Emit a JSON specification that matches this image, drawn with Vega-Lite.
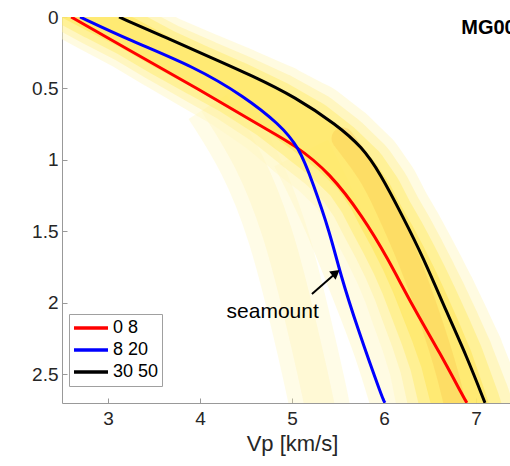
{
  "$schema": "https://vega.github.io/schema/vega-lite/v6.json",
  "autosize": "none",
  "padding": {"left": 62, "top": 17, "right": 0, "bottom": 63},
  "width": 448,
  "height": 386,
  "background": "white",
  "config": {
    "view": {"stroke": null},
    "font": "Liberation Sans",
    "axis": {
      "domainColor": "#999999",
      "tickColor": "#999999",
      "labelColor": "#262626",
      "titleColor": "#262626",
      "labelFont": "Liberation Sans",
      "titleFont": "Liberation Sans",
      "grid": false
    }
  },
  "resolve": {"scale": {"size": "independent"}},
  "datasets": {
    "curves": [
      {"range": "0 8", "Vp": 2.6, "depth": 0},
      {"range": "0 8", "Vp": 3.228, "depth": 0.231},
      {"range": "0 8", "Vp": 3.946, "depth": 0.49},
      {"range": "0 8", "Vp": 4.674, "depth": 0.769},
      {"range": "0 8", "Vp": 5.033, "depth": 0.895},
      {"range": "0 8", "Vp": 5.413, "depth": 1.091},
      {"range": "0 8", "Vp": 5.772, "depth": 1.399},
      {"range": "0 8", "Vp": 6.033, "depth": 1.678},
      {"range": "0 8", "Vp": 6.315, "depth": 2.028},
      {"range": "0 8", "Vp": 6.609, "depth": 2.35},
      {"range": "0 8", "Vp": 6.88, "depth": 2.678},
      {"range": "0 8", "Vp": 6.902, "depth": 2.699},
      {"range": "8 20", "Vp": 2.696, "depth": 0},
      {"range": "8 20", "Vp": 3.228, "depth": 0.161},
      {"range": "8 20", "Vp": 3.946, "depth": 0.35},
      {"range": "8 20", "Vp": 4.489, "depth": 0.559},
      {"range": "8 20", "Vp": 4.859, "depth": 0.748},
      {"range": "8 20", "Vp": 5.076, "depth": 0.909},
      {"range": "8 20", "Vp": 5.228, "depth": 1.161},
      {"range": "8 20", "Vp": 5.413, "depth": 1.51},
      {"range": "8 20", "Vp": 5.522, "depth": 1.79},
      {"range": "8 20", "Vp": 5.707, "depth": 2.168},
      {"range": "8 20", "Vp": 5.989, "depth": 2.678},
      {"range": "8 20", "Vp": 6.011, "depth": 2.699},
      {"range": "30 50", "Vp": 3.12, "depth": 0},
      {"range": "30 50", "Vp": 3.641, "depth": 0.147},
      {"range": "30 50", "Vp": 4.109, "depth": 0.28},
      {"range": "30 50", "Vp": 4.576, "depth": 0.413},
      {"range": "30 50", "Vp": 5.033, "depth": 0.559},
      {"range": "30 50", "Vp": 5.489, "depth": 0.755},
      {"range": "30 50", "Vp": 5.761, "depth": 0.909},
      {"range": "30 50", "Vp": 5.957, "depth": 1.091},
      {"range": "30 50", "Vp": 6.207, "depth": 1.399},
      {"range": "30 50", "Vp": 6.424, "depth": 1.678},
      {"range": "30 50", "Vp": 6.685, "depth": 2.07},
      {"range": "30 50", "Vp": 6.902, "depth": 2.378},
      {"range": "30 50", "Vp": 7.098, "depth": 2.699}
    ],
    "mainband": [
      {"Vp": 2.25, "depth": -0.2, "spread": 0.65},
      {"Vp": 2.86, "depth": 0, "spread": 0.68},
      {"Vp": 3.24, "depth": 0.12, "spread": 0.7},
      {"Vp": 3.6, "depth": 0.25, "spread": 0.72},
      {"Vp": 4.0, "depth": 0.38, "spread": 0.77},
      {"Vp": 4.38, "depth": 0.5, "spread": 0.82},
      {"Vp": 4.8, "depth": 0.65, "spread": 0.9},
      {"Vp": 5.15, "depth": 0.8, "spread": 0.98},
      {"Vp": 5.45, "depth": 0.95, "spread": 0.98},
      {"Vp": 5.69, "depth": 1.1, "spread": 0.98},
      {"Vp": 5.85, "depth": 1.25, "spread": 0.98},
      {"Vp": 5.97, "depth": 1.4, "spread": 0.98},
      {"Vp": 6.1, "depth": 1.55, "spread": 0.99},
      {"Vp": 6.22, "depth": 1.7, "spread": 1.0},
      {"Vp": 6.33, "depth": 1.85, "spread": 1.02},
      {"Vp": 6.43, "depth": 2.0, "spread": 1.05},
      {"Vp": 6.56, "depth": 2.2, "spread": 1.08},
      {"Vp": 6.68, "depth": 2.4, "spread": 1.12},
      {"Vp": 6.82, "depth": 2.7, "spread": 1.2},
      {"Vp": 6.92, "depth": 2.9, "spread": 1.2}
    ],
    "coreband": [
      {"Vp": 5.55, "depth": 0.85},
      {"Vp": 5.85, "depth": 1.1},
      {"Vp": 6.0, "depth": 1.3},
      {"Vp": 6.28, "depth": 1.7},
      {"Vp": 6.5, "depth": 2.1},
      {"Vp": 6.7, "depth": 2.5},
      {"Vp": 6.82, "depth": 2.85}
    ],
    "paleband": [
      {"Vp": 5.1, "depth": 0.95},
      {"Vp": 5.45, "depth": 1.4},
      {"Vp": 5.75, "depth": 1.9},
      {"Vp": 6.0, "depth": 2.3},
      {"Vp": 6.25, "depth": 2.85}
    ],
    "leftband": [
      {"Vp": 4.15, "depth": 0.6},
      {"Vp": 4.55, "depth": 1.0},
      {"Vp": 4.85, "depth": 1.5},
      {"Vp": 5.05, "depth": 2.0},
      {"Vp": 5.3, "depth": 2.7},
      {"Vp": 5.35, "depth": 2.9}
    ],
    "notes": [
      {"label": "seamount", "Vp": 4.79, "depth": 2.06}
    ],
    "tag": [
      {"label": "MG00", "Vp": 6.84, "depth": 0.08}
    ],
    "arrow": [
      {"Vp": 5.217, "depth": 1.937, "Vp2": 5.478, "depth2": 1.79}
    ]
  },
  "encoding": {
    "x": {
      "field": "Vp", "type": "quantitative",
      "scale": {"domain": [2.5, 7.37], "nice": false, "zero": false},
      "axis": {
        "title": "Vp [km/s]", "values": [3, 4, 5, 6, 7],
        "labelFontSize": 19, "titleFontSize": 22, "titleFontWeight": "normal",
        "tickSize": -5, "labelPadding": 11, "titleX": 230, "titlePadding": 5
      }
    },
    "y": {
      "field": "depth", "type": "quantitative",
      "scale": {"domain": [0, 2.7], "nice": false, "reverse": true, "zero": false},
      "axis": {
        "title": null, "values": [0, 0.5, 1, 1.5, 2, 2.5], "format": "~g",
        "labelFontSize": 19, "tickSize": -5, "labelPadding": 9
      }
    }
  },
  "layer": [
    {
      "data": {"name": "leftband"},
      "mark": {"type": "line", "clip": true, "color": "#FFF4B0", "strokeWidth": 60, "opacity": 0.3, "strokeJoin": "round", "interpolate": "basis"},
      "encoding": {"order": {"field": "depth"}}
    },
    {
      "data": {"name": "leftband"},
      "mark": {"type": "line", "clip": true, "color": "#FFF0A0", "strokeWidth": 30, "opacity": 0.25, "strokeJoin": "round", "interpolate": "basis"},
      "encoding": {"order": {"field": "depth"}}
    },
    {
      "data": {"name": "paleband"},
      "mark": {"type": "line", "clip": true, "color": "#FFF6C0", "strokeWidth": 60, "opacity": 0.45, "strokeJoin": "round", "interpolate": "basis"},
      "encoding": {"order": {"field": "depth"}}
    },
    {
      "data": {"name": "mainband"},
      "mark": {"type": "trail", "clip": true, "color": "#FFF7C4", "opacity": 0.5},
      "encoding": {"order": {"field": "depth"}, "size": {"field": "spread", "type": "quantitative", "scale": {"domain": [0, 1.2], "range": [0, 125]}, "legend": null}}
    },
    {
      "data": {"name": "mainband"},
      "mark": {"type": "trail", "clip": true, "color": "#FFF09A", "opacity": 0.45},
      "encoding": {"order": {"field": "depth"}, "size": {"field": "spread", "type": "quantitative", "scale": {"domain": [0, 1.2], "range": [0, 102]}, "legend": null}}
    },
    {
      "data": {"name": "mainband"},
      "mark": {"type": "trail", "clip": true, "color": "#FFEA66", "opacity": 0.45},
      "encoding": {"order": {"field": "depth"}, "size": {"field": "spread", "type": "quantitative", "scale": {"domain": [0, 1.2], "range": [0, 80]}, "legend": null}}
    },
    {
      "data": {"name": "mainband"},
      "mark": {"type": "trail", "clip": true, "color": "#FFE246", "opacity": 0.45},
      "encoding": {"order": {"field": "depth"}, "size": {"field": "spread", "type": "quantitative", "scale": {"domain": [0, 1.2], "range": [0, 56]}, "legend": null}}
    },
    {
      "data": {"name": "coreband"},
      "mark": {"type": "line", "clip": true, "color": "#F6B73C", "strokeWidth": 22, "opacity": 0.25, "strokeJoin": "round", "strokeCap": "round", "interpolate": "basis"},
      "encoding": {"order": {"field": "depth"}}
    },
    {
      "data": {"name": "curves"},
      "mark": {"type": "line", "clip": true, "strokeWidth": 3, "interpolate": "basis"},
      "encoding": {
        "order": {"field": "depth"},
        "color": {
          "field": "range", "type": "nominal",
          "scale": {"domain": ["0 8", "8 20", "30 50"], "range": ["#ff0000", "#0000ff", "#000000"]},
          "legend": {
            "title": null, "orient": "none", "legendX": 7, "legendY": 297,
            "symbolType": "stroke", "symbolSize": 1156, "symbolStrokeWidth": 3.5,
            "clipHeight": 22, "rowPadding": 0, "labelFontSize": 18, "labelColor": "#000000",
            "labelFont": "Liberation Sans", "labelOffset": 3,
            "strokeColor": "#a0a0a0", "fillColor": "white", "padding": 3
          }
        }
      }
    },
    {
      "data": {"name": "arrow"},
      "mark": {"type": "rule", "color": "black", "strokeWidth": 2},
      "encoding": {
        "x2": {"field": "Vp2"},
        "y2": {"field": "depth2"}
      }
    },
    {
      "data": {"name": "arrow"},
      "mark": {"type": "point", "shape": "triangle-up", "filled": true, "color": "black", "opacity": 1, "size": 110, "angle": 52},
      "encoding": {
        "x": {"field": "Vp2", "type": "quantitative"},
        "y": {"field": "depth2", "type": "quantitative"}
      }
    },
    {
      "data": {"name": "notes"},
      "mark": {"type": "text", "fontSize": 21, "color": "#000000", "align": "center", "baseline": "middle"},
      "encoding": {"text": {"field": "label"}}
    },
    {
      "data": {"name": "tag"},
      "mark": {"type": "text", "fontSize": 20, "fontWeight": "bold", "color": "#000000", "align": "left", "baseline": "middle", "clip": true},
      "encoding": {"text": {"field": "label"}}
    },
    {
      "data": {"values": [{}]},
      "mark": {"type": "rule", "color": "#e3e3e3", "strokeWidth": 1},
      "encoding": {"y": {"datum": 0}}
    }
  ]
}
